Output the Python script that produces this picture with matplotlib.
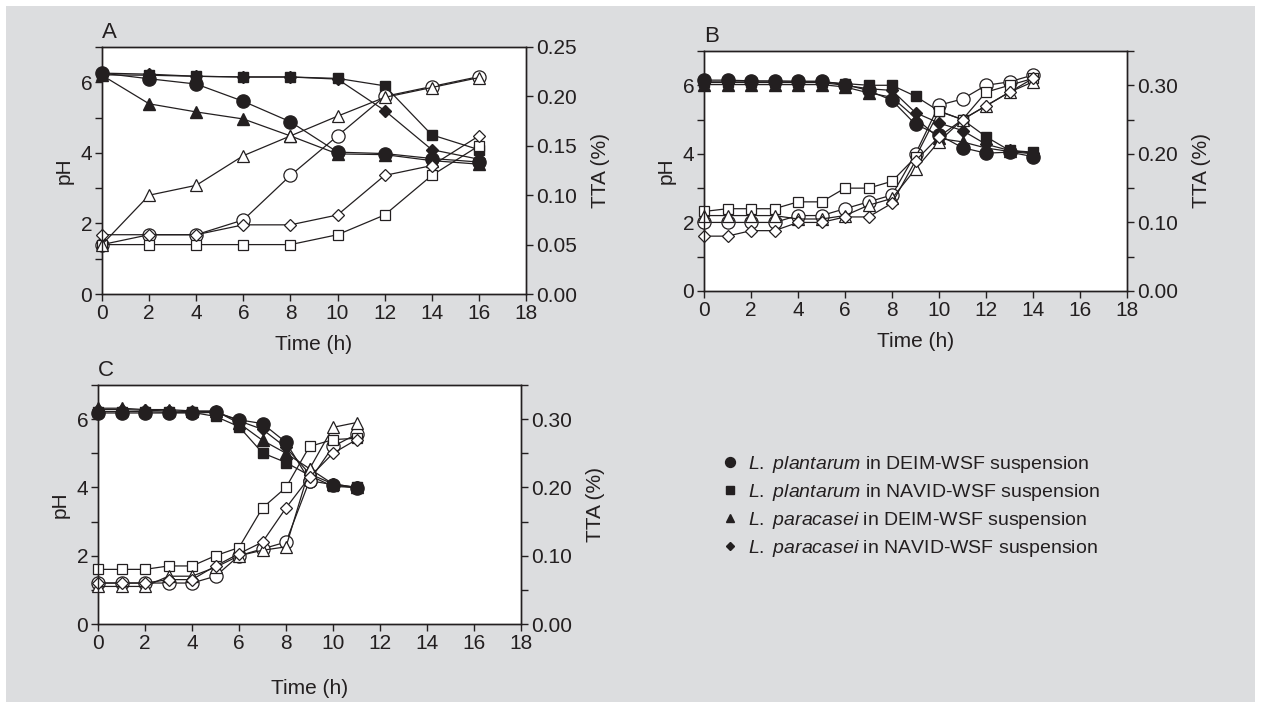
import matplotlib
matplotlib.use("Agg")
import matplotlib.pyplot as plt
from matplotlib import font_manager
from matplotlib.lines import Line2D
from matplotlib.patches import Rectangle
from matplotlib.ticker import MultipleLocator, FuncFormatter

# ---- data -------------------------------------------------------------
time_a = [0, 2, 4, 6, 8, 10, 12, 14, 16]
ph_a_lp_deim = [6.26, 6.10, 5.95, 5.46, 4.88, 4.02, 3.98, 3.84, 3.74]
ph_a_lp_navid = [6.21, 6.20, 6.17, 6.15, 6.15, 6.11, 5.90, 4.51, 4.09]
ph_a_lc_deim = [6.20, 5.39, 5.16, 4.96, 4.48, 3.97, 3.95, 3.78, 3.68]
ph_a_lc_navid = [6.26, 6.23, 6.17, 6.15, 6.15, 6.09, 5.20, 4.09, 3.82]
tta_a_lp_deim = [0.050, 0.060, 0.060, 0.075, 0.120, 0.160, 0.200, 0.210, 0.220]
tta_a_lp_navid = [0.050, 0.050, 0.050, 0.050, 0.050, 0.060, 0.080, 0.120, 0.150]
tta_a_lc_deim = [0.050, 0.100, 0.110, 0.140, 0.160, 0.180, 0.199, 0.209, 0.219]
tta_a_lc_navid = [0.060, 0.060, 0.060, 0.070, 0.070, 0.080, 0.120, 0.130, 0.160]

time_b = [0, 1, 2, 3, 4, 5, 6, 7, 8, 9, 10, 11, 12, 13, 14]
ph_b_lp_deim = [6.15, 6.15, 6.13, 6.13, 6.12, 6.12, 6.02, 5.85, 5.56, 4.86, 4.55, 4.18, 4.02, 4.05, 3.92]
ph_b_lp_navid = [6.10, 6.10, 6.10, 6.10, 6.10, 6.10, 6.05, 6.00, 6.00, 5.68, 5.25, 5.00, 4.50, 4.10, 4.05]
ph_b_lc_deim = [6.02, 6.02, 6.02, 6.02, 6.02, 6.02, 5.95, 5.78, 5.65, 5.05, 4.45, 4.35, 4.17, 4.07, 4.00]
ph_b_lc_navid = [6.08, 6.08, 6.08, 6.08, 6.08, 6.08, 6.00, 5.90, 5.85, 5.20, 4.90, 4.68, 4.28, 4.10, 4.02]
tta_b_lp_deim = [0.100, 0.100, 0.100, 0.100, 0.110, 0.110, 0.120, 0.130, 0.140, 0.200, 0.271, 0.280, 0.300, 0.305, 0.315]
tta_b_lp_navid = [0.116, 0.120, 0.120, 0.120, 0.130, 0.130, 0.150, 0.150, 0.160, 0.195, 0.262, 0.250, 0.290, 0.300, 0.310]
tta_b_lc_deim = [0.110, 0.110, 0.110, 0.110, 0.105, 0.105, 0.110, 0.125, 0.135, 0.178, 0.218, 0.250, 0.270, 0.290, 0.305]
tta_b_lc_navid = [0.080, 0.080, 0.088, 0.088, 0.100, 0.100, 0.108, 0.108, 0.128, 0.190, 0.225, 0.250, 0.270, 0.290, 0.310]

time_c = [0, 1, 2, 3, 4, 5, 6, 7, 8, 9, 10, 11]
ph_c_lp_deim = [6.18, 6.18, 6.18, 6.18, 6.18, 6.20, 5.98, 5.87, 5.32, 4.20, 4.08, 3.98]
ph_c_lp_navid = [6.22, 6.22, 6.22, 6.20, 6.20, 6.08, 5.78, 5.01, 4.73, 4.35, 4.03, 4.00]
ph_c_lc_deim = [6.32, 6.32, 6.28, 6.28, 6.24, 6.24, 5.88, 5.38, 5.00, 4.55, 4.10, 4.00]
ph_c_lc_navid = [6.28, 6.28, 6.26, 6.24, 6.22, 6.22, 5.95, 5.70, 5.17, 4.40, 4.10, 4.00]
tta_c_lp_deim = [0.060, 0.060, 0.060, 0.060, 0.060, 0.070, 0.100, 0.110, 0.120, 0.210, 0.260, 0.278]
tta_c_lp_navid = [0.080, 0.080, 0.080, 0.085, 0.085, 0.100, 0.112, 0.170, 0.200, 0.260, 0.270, 0.272]
tta_c_lc_deim = [0.055, 0.055, 0.055, 0.070, 0.070, 0.083, 0.100, 0.108, 0.113, 0.227, 0.288, 0.295]
tta_c_lc_navid = [0.060, 0.060, 0.060, 0.065, 0.065, 0.085, 0.103, 0.120, 0.170, 0.215, 0.250, 0.270]

legend_species = ["L.\\ plantarum", "L.\\ plantarum", "L.\\ paracasei", "L.\\ paracasei"]
legend_media = ["DEIM-WSF", "NAVID-WSF", "DEIM-WSF", "NAVID-WSF"]

# ---- style -------------------------------------------------------------
names = {f.name for f in font_manager.fontManager.ttflist}
FONT = "Liberation Sans Narrow" if "Liberation Sans Narrow" in names else "Liberation Sans"
plt.rcParams["font.family"] = [FONT, "DejaVu Sans"]
plt.rcParams["mathtext.fontset"] = "custom"
plt.rcParams["mathtext.rm"] = FONT
plt.rcParams["mathtext.it"] = FONT + ":italic"

INK = "#231f20"
BG = "#dcdddf"
MARKERS = ["o", "s", "^", "D"]
MSIZE = {"o": 9.5, "s": 7.5, "^": 8.5, "D": 5.8}

fig = plt.figure(figsize=(12.61, 7.08), dpi=100)
fig.patch.set_facecolor("white")
fig.add_artist(Rectangle((6 / 1261, 6 / 708), 1249 / 1261, 696 / 708,
                         transform=fig.transFigure, facecolor=BG, edgecolor="none", zorder=-10))


def px_box(left, top, right, bottom):
    return [left / 1261, 1 - bottom / 708, (right - left) / 1261, (bottom - top) / 708]


def panel(box, letter, t, ph_series, tta_series, tta_max, tta_major, tta_minor, xlab_pad):
    ax = fig.add_axes(box)
    ax.set_facecolor("white")
    tw = ax.twinx()
    for m, ph in zip(MARKERS, ph_series):
        ax.plot(t, ph, marker=m, ms=MSIZE[m], color=INK, mfc=INK, mec=INK, lw=0.9, clip_on=False)
    for m, tta in zip(MARKERS, tta_series):
        tw.plot(t, tta, marker=m, ms=MSIZE[m], color=INK, mfc="white", mec=INK, mew=0.9, lw=0.9,
                clip_on=False)
    ax.set_xlim(0, 18)
    ax.set_ylim(0, 7)
    tw.set_ylim(0, tta_max)
    ax.xaxis.set_major_locator(MultipleLocator(2))
    ax.yaxis.set_major_locator(MultipleLocator(2))
    ax.yaxis.set_minor_locator(MultipleLocator(1))
    tw.yaxis.set_major_locator(MultipleLocator(tta_major))
    if tta_minor:
        tw.yaxis.set_minor_locator(MultipleLocator(tta_minor))
    tw.yaxis.set_major_formatter(FuncFormatter(lambda v, p: f"{v:.2f}"))
    for a in (ax, tw):
        for s in a.spines.values():
            s.set_color(INK)
            s.set_linewidth(1.0)
        a.tick_params(which="both", direction="out", length=5, width=1.0, color=INK,
                      labelsize=15, labelcolor=INK, pad=2)
    ax.set_ylabel("pH", fontsize=15, color=INK, labelpad=5)
    tw.set_ylabel("TTA (%)", fontsize=15, color=INK, labelpad=10)
    ax.set_xlabel("Time (h)", fontsize=15, color=INK, labelpad=xlab_pad)
    ax.text(0.0, 1.015, letter, transform=ax.transAxes, fontsize=16, color=INK,
            ha="left", va="bottom")
    return ax


panel(px_box(102, 47, 526, 294), "A", time_a,
      [ph_a_lp_deim, ph_a_lp_navid, ph_a_lc_deim, ph_a_lc_navid],
      [tta_a_lp_deim, tta_a_lp_navid, tta_a_lc_deim, tta_a_lc_navid],
      0.25, 0.05, None, 9)
panel(px_box(704, 51, 1127, 291), "B", time_b,
      [ph_b_lp_deim, ph_b_lp_navid, ph_b_lc_deim, ph_b_lc_navid],
      [tta_b_lp_deim, tta_b_lp_navid, tta_b_lc_deim, tta_b_lc_navid],
      0.35, 0.10, 0.05, 9)
panel(px_box(98, 385, 521, 624), "C", time_c,
      [ph_c_lp_deim, ph_c_lp_navid, ph_c_lc_deim, ph_c_lc_navid],
      [tta_c_lp_deim, tta_c_lp_navid, tta_c_lc_deim, tta_c_lc_navid],
      0.35, 0.10, 0.05, 19)

# legend
handles = [Line2D([], [], ls="none", marker=m, ms=MSIZE[m] * 0.75, color=INK) for m in MARKERS]
labels = [f"$\\it{{{sp}}}$ in {md} suspension" for sp, md in zip(legend_species, legend_media)]
fig.legend(handles, labels, loc="upper left", bbox_to_anchor=(712 / 1261, 1 - 444 / 708),
           frameon=False, fontsize=14, labelspacing=0.36, handlelength=0.8,
           handletextpad=0.55, borderpad=0, labelcolor=INK)

fig.savefig("out.png", dpi=100, facecolor=fig.get_facecolor())
